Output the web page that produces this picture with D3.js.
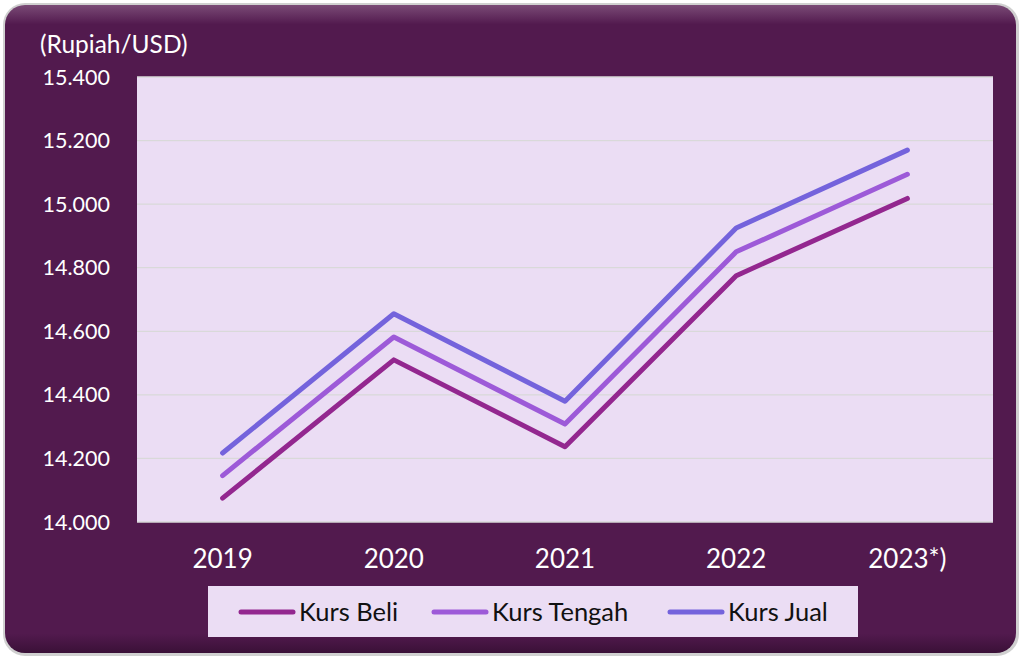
<!DOCTYPE html>
<html>
<head>
<meta charset="utf-8">
<script src="https://cdn.jsdelivr.net/npm/d3@7"></script>
<style>
  html, body { margin: 0; padding: 0; background: #fff; }
  #chart { width: 1022px; height: 658px; }
</style>
</head>
<body>
<div id="chart"></div>
<script>
const years = ["2019", "2020", "2021", "2022", "2023*)"];
const kursBeli = [14075, 14510, 14237, 14775, 15018];
const kursTengah = [14146, 14582, 14308, 14850, 15094];
const kursJual = [14217, 14655, 14380, 14925, 15170];
const yTicks = [14000, 14200, 14400, 14600, 14800, 15000, 15200, 15400];
const seriesNames = ["Kurs Beli", "Kurs Tengah", "Kurs Jual"];
const seriesColors = ["#93278f", "#9d5ad8", "#7463dc"];

const width = 1022, height = 658;
const font = "Lato, 'Open Sans', sans-serif";

const svg = d3.select("#chart").append("svg")
    .attr("width", width)
    .attr("height", height)
    .style("font-family", font);

const defs = svg.append("defs");
const bevel = defs.append("linearGradient")
    .attr("id", "bevel").attr("x1", 0).attr("y1", 0).attr("x2", 0).attr("y2", 1);
bevel.append("stop").attr("offset", "0%").attr("stop-color", "#7a4a76");
bevel.append("stop").attr("offset", "3%").attr("stop-color", "#521a4e");
bevel.append("stop").attr("offset", "97%").attr("stop-color", "#521a4e");
bevel.append("stop").attr("offset", "100%").attr("stop-color", "#3a1037");

// outer frame
svg.append("rect")
    .attr("x", 3).attr("y", 3)
    .attr("width", 1016).attr("height", 653)
    .attr("rx", 22)
    .attr("fill", "#d0d0d0");
svg.append("rect")
    .attr("x", 5).attr("y", 5)
    .attr("width", 1011).attr("height", 648)
    .attr("rx", 20)
    .attr("fill", "url(#bevel)");

const margin = { top: 77, right: 29, bottom: 136, left: 137 };
const x = d3.scalePoint()
    .domain(years)
    .range([margin.left, width - margin.right])
    .padding(0.5);
const y = d3.scaleLinear()
    .domain([14000, 15400])
    .range([height - margin.bottom, margin.top]);

// plot background
svg.append("rect")
    .attr("x", margin.left).attr("y", margin.top)
    .attr("width", width - margin.right - margin.left)
    .attr("height", height - margin.bottom - margin.top)
    .attr("fill", "#ebddf4");

// gridlines
svg.append("g")
    .selectAll("line")
    .data(yTicks)
    .join("line")
    .attr("x1", margin.left).attr("x2", width - margin.right)
    .attr("y1", d => y(d)).attr("y2", d => y(d))
    .attr("stroke", "#d9d9d9")
    .attr("stroke-width", 1.3);

// y axis labels
const fmt = d => d3.format(",")(d).replace(/,/g, ".");
svg.append("g")
    .selectAll("text")
    .data(yTicks)
    .join("text")
    .attr("x", 110)
    .attr("y", d => y(d))
    .attr("dy", "0.35em")
    .attr("text-anchor", "end")
    .attr("fill", "#fff")
    .style("font-size", "21.5px")
    .text(fmt);

svg.append("text")
    .attr("x", 40).attr("y", 53)
    .attr("fill", "#fff")
    .style("font-size", "24.5px")
    .text("(Rupiah/USD)");

// x axis labels
svg.append("g")
    .selectAll("text")
    .data(years)
    .join("text")
    .attr("x", d => x(d))
    .attr("y", 568)
    .attr("text-anchor", "middle")
    .attr("fill", "#fff")
    .style("font-size", "26px")
    .text(d => d);

// lines
const series = [kursBeli, kursTengah, kursJual];
const line = d3.line()
    .x((d, i) => x(years[i]))
    .y(d => y(d));
svg.append("g")
    .selectAll("path")
    .data(series)
    .join("path")
    .attr("d", line)
    .attr("fill", "none")
    .attr("stroke", (d, i) => seriesColors[i])
    .attr("stroke-width", 5)
    .attr("stroke-linecap", "round")
    .attr("stroke-linejoin", "round");

// legend
const legend = svg.append("g");
legend.append("rect")
    .attr("x", 208).attr("y", 586)
    .attr("width", 650).attr("height", 51)
    .attr("fill", "#ebddf4");
const legendX = [239, 432, 668];
const item = legend.selectAll("g")
    .data(seriesNames)
    .join("g")
    .attr("transform", (d, i) => `translate(${legendX[i]},612)`);
item.append("line")
    .attr("x1", 2).attr("x2", 54)
    .attr("stroke", (d, i) => seriesColors[i])
    .attr("stroke-width", 5)
    .attr("stroke-linecap", "round");
item.append("text")
    .attr("x", 60)
    .attr("dy", "0.35em")
    .attr("fill", "#111")
    .style("font-size", "25.5px")
    .text(d => d);
</script>
</body>
</html>
